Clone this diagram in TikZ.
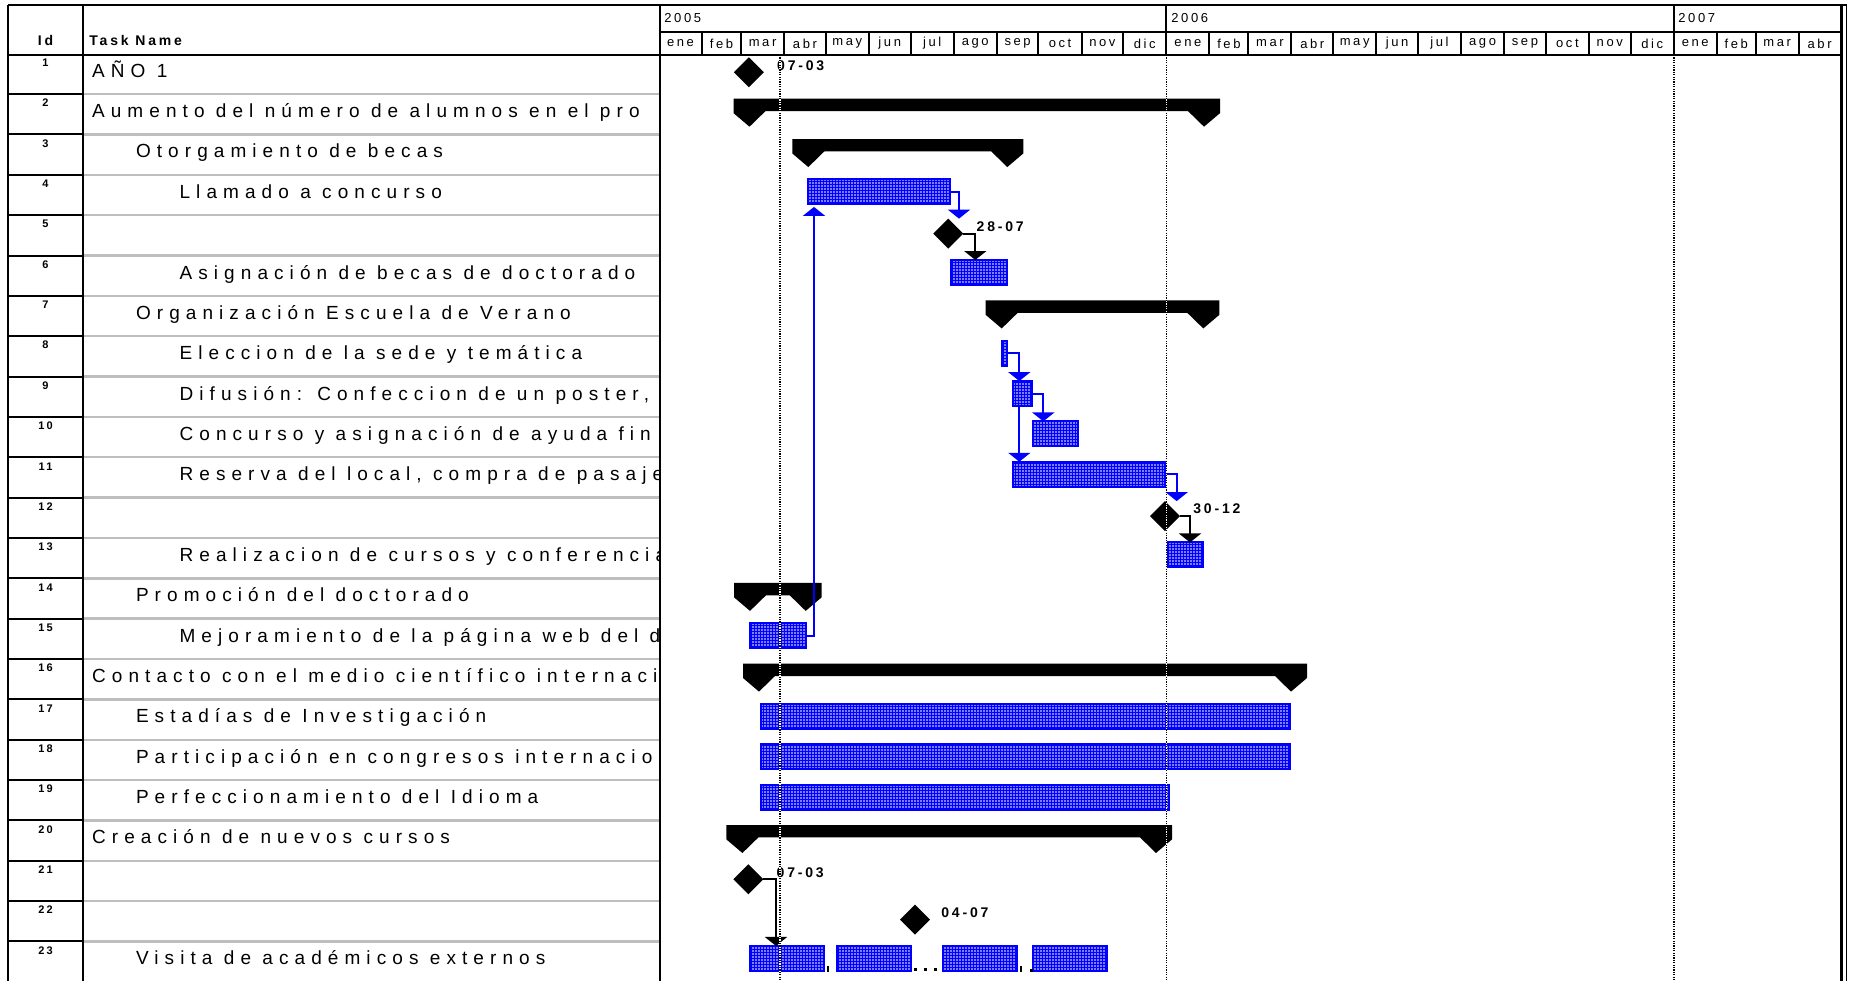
\documentclass[tikz,border=0pt]{standalone}
\usepackage{fontspec}
\setmainfont{Liberation Sans}
\newfontfamily\taskfont[LetterSpace=32]{Liberation Sans}
\newfontfamily\tagfont[LetterSpace=20]{Liberation Sans}
\usetikzlibrary{shapes.geometric,arrows.meta,patterns.meta,calc}

\definecolor{msblue}{RGB}{0,0,255}
\definecolor{rowgray}{RGB}{190,190,190}

\tikzset{
  taskbar/.style={rectangle, draw=msblue, line width=1pt, preaction={fill=msblue},
    pattern={Dots[distance=1.5pt,radius=0.45pt]}, pattern color=white,
    inner sep=0pt, outer sep=0pt, minimum height=12.5pt, anchor=north west},
  milestone/.style={diamond, fill=black, inner sep=0pt, outer sep=0pt,
    minimum width=15pt, minimum height=15pt},
  bluelink/.style={draw=msblue, line width=1pt, -{Triangle[width=11pt,length=4.5pt]}},
  blacklink/.style={draw=black, line width=1pt, -{Triangle[width=11pt,length=4.5pt]}},
  tasklabel/.style={anchor=base west, inner sep=0pt, font=\taskfont\fontsize{9.5}{10.5}\selectfont},
  idlabel/.style={inner sep=0pt, font=\tagfont\bfseries\fontsize{5.5}{6.5}\selectfont},
  datelabel/.style={anchor=west, inner sep=0pt, font=\tagfont\bfseries\fontsize{7}{8}\selectfont},
  headlabel/.style={inner sep=0pt, font=\tagfont\bfseries\fontsize{7}{8}\selectfont},
  scalelabel/.style={inner sep=0pt, font=\tagfont\fontsize{6.5}{7.5}\selectfont},
  gridline/.style={line width=1pt, draw=black},
  rowline/.style={line width=1.2pt, draw=rowgray},
  nowline/.style={line width=0.8pt, draw=black, dash pattern=on 0.6pt off 0.6pt}
}

% summary bar: #1 start tip, #2 finish tip, #3 row top
\newcommand\summarybar[3]{%
  \fill ({#1-16},{#3+4.6}) -- ({#2+16},{#3+4.6}) -- ({#2+16},{#3+19}) -- (#2,{#3+32.6})
    -- ({#2-16},{#3+17}) -- ({#1+16},{#3+17}) -- (#1,{#3+32.6}) -- ({#1-16},{#3+19}) -- cycle;}
% task bar: #1 name, #2 start x, #3 end x, #4 row top
\newcommand\taskbar[4]{%
  \node[taskbar, minimum width={(#3-#2)*0.5pt}] (#1) at (#2,{#4+4.5}) {};}

\begin{document}
\begin{tikzpicture}[x=0.5pt,y=-0.5pt]
\useasboundingbox (0,0) rectangle (1849,981);
\fill[white] (0,0) rectangle (1849,981);

% ---------- table frame ----------
\foreach \k in {2,...,23}{
  \pgfmathsetmacro\ty{53.75+(\k-1)*40.35}
  \draw[rowline] (83,\ty) -- (659,\ty);
  \draw[gridline] (8,\ty) -- (83,\ty);
}
\draw[line width=1.2pt] (8,5) -- (1847,5);
\draw[gridline] (8,54.5) -- (1841,54.5);
\draw[gridline] (659.5,32) -- (1841,32);
\draw[gridline] (8,5) -- (8,981);
\draw[gridline] (83,5) -- (83,981);
\draw[gridline] (659.5,5) -- (659.5,981);
\draw[line width=1.3pt] (1841.5,5) -- (1841.5,981);
\draw[line width=0.8pt] (1846.5,5) -- (1846.5,981);
\draw[gridline] (1166.35,5) -- (1166.35,54.5);
\draw[gridline] (1673.7,5) -- (1673.7,54.5);

% ---------- time scale ----------
\node[headlabel] (hid) at (45.5,40) {Id};
\node[headlabel, anchor=west] (htask) at (89,40) {Task Name};
\node[scalelabel, anchor=west] (y2005) at (664,18.5) {2005};
\node[scalelabel, anchor=west] (y2006) at (1171,18.5) {2006};
\node[scalelabel, anchor=west] (y2007) at (1678,18.5) {2007};
\foreach \a/\b/\m [count=\i] in {0/31/ene,31/59/feb,59/90/mar,90/120/abr,120/151/may,
  151/181/jun,181/212/jul,212/243/ago,243/273/sep,273/304/oct,304/334/nov,334/365/dic,
  365/396/ene,396/424/feb,424/455/mar,455/485/abr,485/516/may,516/546/jun,546/577/jul,
  577/608/ago,608/638/sep,638/669/oct,669/699/nov,699/730/dic,
  730/761/ene,761/789/feb,789/820/mar,820/850/abr}{
  \draw[gridline] ({659+1.39*\b},32) -- ({659+1.39*\b},54.5);
  \node[scalelabel] (mon\i) at ({659+1.39*(\a+\b)/2},43.5) {\m};
}

% ---------- row numbers ----------
\foreach \k in {1,...,23}{
  \pgfmathsetmacro\ty{53.75+(\k-1)*40.35+9}
  \node[idlabel] (id\k) at (45.5,\ty) {\k};
}

% ---------- task names ----------
\begin{scope}
\clip (84,55) rectangle (658.5,981);
\node[tasklabel] (t1)  at (91.7,77.25)   {AÑO 1};
\node[tasklabel] (t2)  at (91.7,117.6)   {Aumento del número de alumnos en el pro};
\node[tasklabel] (t3)  at (135.6,157.95) {Otorgamiento de becas};
\node[tasklabel] (t4)  at (179.2,198.3)  {Llamado a concurso};
\node[tasklabel] (t6)  at (179.2,279)    {Asignación de becas de doctorado};
\node[tasklabel] (t7)  at (135.6,319.35) {Organización Escuela de Verano};
\node[tasklabel] (t8)  at (179.2,359.7)  {Eleccion de la sede y temática};
\node[tasklabel] (t9)  at (179.2,400.05) {Difusión: Confeccion de un poster, y};
\node[tasklabel] (t10) at (179.2,440.4)  {Concurso y asignación de ayuda fin};
\node[tasklabel] (t11) at (179.2,480.75) {Reserva del local, compra de pasaje};
\node[tasklabel] (t13) at (179.2,561.45) {Realizacion de cursos y conferencia};
\node[tasklabel] (t14) at (135.6,601.8)  {Promoción del doctorado};
\node[tasklabel] (t15) at (179.2,642.15) {Mejoramiento de la página web del d};
\node[tasklabel] (t16) at (91.7,682.5)   {Contacto con el medio científico internacio};
\node[tasklabel] (t17) at (135.6,722.85) {Estadías de Investigación};
\node[tasklabel] (t18) at (135.6,763.2)  {Participación en congresos internacion};
\node[tasklabel] (t19) at (135.6,803.55) {Perfeccionamiento del Idioma};
\node[tasklabel] (t20) at (91.7,843.9)   {Creación de nuevos cursos};
\node[tasklabel] (t23) at (135.6,964.95) {Visita de académicos externos};
\end{scope}

% ---------- summary bars ----------
\summarybar{749.5}{1204}{94.1}
\summarybar{808.3}{1007.3}{134.45}
\summarybar{1001.7}{1203.3}{295.85}
\summarybar{750}{805.7}{578.3}
\summarybar{759}{1291}{659}
\summarybar{742.4}{1156}{820.4}

% ---------- task bars ----------
\taskbar{b4}{808.3}{950}{174.8}
\taskbar{b6}{950.7}{1007.3}{255.5}
\taskbar{b8}{1001.7}{1007.3}{336.2}
\taskbar{b9}{1013.3}{1031.7}{376.55}
\taskbar{b10}{1033.3}{1077.7}{416.9}
\taskbar{b11}{1013.3}{1165}{457.25}
\taskbar{b13}{1167.3}{1203.3}{537.95}
\taskbar{b15}{750}{805.7}{618.65}
\taskbar{b17}{760.6}{1290}{699.35}
\taskbar{b18}{760.6}{1290}{739.7}
\taskbar{b19}{760.6}{1169.3}{780.05}
\taskbar{b23a}{750}{824.3}{941.45}
\taskbar{b23b}{836.7}{911}{941.45}
\taskbar{b23c}{943.3}{1017.3}{941.45}
\taskbar{b23d}{1032.7}{1106.7}{941.45}

% split marks between the pieces of task 23
\fill (826.5,966) rectangle (829,971.5);
\fill (914,967.5) rectangle (916.5,970.5);
\fill (924,967.5) rectangle (926.5,970.5);
\fill (934,967.5) rectangle (936.5,970.5);
\fill (1019.5,966) rectangle (1022,971.5);
\fill (1029.5,969) rectangle (1032.5,971.5);

% ---------- milestones ----------
\node[milestone] (m1)  at (748.8,72.25) {};
\node[milestone] (m5)  at (948.3,233.65) {};
\node[milestone] (m12) at (1165,516.1) {};
\node[milestone] (m21) at (748.3,879.25) {};
\node[milestone] (m22) at (915,919.6) {};

\node[datelabel] (d1)  at ($(m1.center)+(28,-7)$)  {07-03};
\node[datelabel] (d5)  at ($(m5.center)+(28,-7)$)  {28-07};
\node[datelabel] (d12) at ($(m12.center)+(28,-7)$) {30-12};
\node[datelabel] (d21) at ($(m21.center)+(28,-7)$) {07-03};
\node[datelabel] (d22) at ($(m22.center)+(26,-7)$) {04-07};

% ---------- links ----------
\coordinate (k1) at ($(b4.east)+(9,0)$);
\draw[bluelink] (b4.east) -- (k1) -- (k1 |- m5.north);
\coordinate (k2) at ($(m5.east)+(12,0)$);
\draw[blacklink] (m5.east) -- (k2) -- (k2 |- b6.north);
\coordinate (k3) at ($(b8.east)+(12,0)$);
\draw[bluelink] (b8.east) -- (k3) -- (k3 |- b9.north);
\draw[bluelink] (k3 |- b9.south) -- (k3 |- b11.north);
\coordinate (k4) at ($(b9.east)+(11.6,0)$);
\draw[bluelink] (b9.east) -- (k4) -- (k4 |- b10.north);
\coordinate (k5) at ($(b11.east)+(11.7,0)$);
\draw[bluelink] (b11.east) -- (k5) -- (k5 |- m12.north);
\coordinate (k6) at ($(m12.east)+(10,0)$);
\draw[blacklink] (m12.east) -- (k6) -- (k6 |- b13.north);
\coordinate (k7) at ($(b15.east)+(8.3,0)$);
\draw[bluelink] (b15.east) -- (k7) -- ([yshift=-1.3pt]k7 |- b4.south);
\coordinate (k8) at ($(m21.east)+(12.7,0)$);
\draw[blacklink] (m21.east) -- (k8) -- (k8 |- b23a.north);

% ---------- date lines ----------
\foreach \x in {780,1166.35,1673.7}{
  \draw[white, line width=0.8pt] (\x,55) -- (\x,981);
  \draw[nowline] (\x,55) -- (\x,981);
}
\end{tikzpicture}
\end{document}
